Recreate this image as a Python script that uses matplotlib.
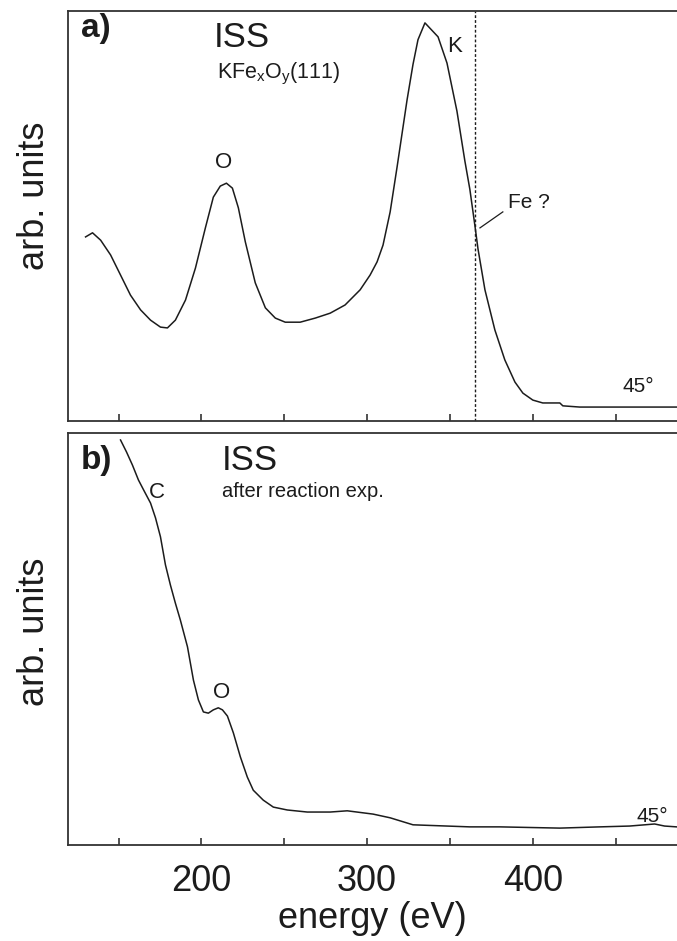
import matplotlib
matplotlib.use("Agg")
import matplotlib.pyplot as plt
from matplotlib.ticker import MultipleLocator, FuncFormatter

plt.rcParams['font.family'] = ['Liberation Sans', 'DejaVu Sans']
plt.rcParams['mathtext.fontset'] = 'custom'
plt.rcParams['mathtext.rm'] = 'Liberation Sans'
plt.rcParams['mathtext.default'] = 'regular'

INK = '#1c1c1c'

# ISS spectrum of the KFexOy(111) film (energy in eV, intensity in arb. units)
energy_a = [130.1, 134.3, 139.2, 145.2, 151.2, 157.2, 163.3, 169.3, 175.3, 179.5,
            184.3, 190.4, 196.4, 202.4, 207.2, 211.4, 215.1, 218.7, 222.3, 226.5,
            232.5, 238.6, 244.6, 250.6, 259.6, 268.7, 277.7, 286.7, 295.8, 301.8,
            306.0, 309.6, 313.9, 318.1, 324.1, 327.7, 330.7, 334.9, 342.8, 348.2,
            354.2, 359.0, 362.0, 365.1, 366.9, 371.1, 377.1, 383.1, 389.2, 394.0,
            400.0, 406.0, 416.3, 418.1, 428.3, 486.7]
intensity_a = [44.9, 45.9, 44.1, 40.5, 35.6, 30.7, 27.1, 24.6, 22.9, 22.7,
               24.6, 29.5, 37.3, 47.1, 54.6, 57.3, 58.0, 56.8, 52.0, 43.7,
               33.7, 27.6, 25.1, 24.1, 24.1, 25.1, 26.3, 28.3, 32.0, 35.6,
               38.8, 42.9, 51.0, 62.0, 78.3, 87.0, 93.0, 97.1, 93.7, 87.3,
               75.6, 63.4, 56.5, 47.5, 42.0, 32.0, 22.2, 14.9, 9.5, 6.8,
               5.1, 4.4, 4.4, 3.7, 3.4, 3.4]

# ISS spectrum after the reaction experiment
energy_b = [151.2, 154.8, 158.4, 162.0, 165.1, 169.3, 172.3, 175.3, 178.3, 181.3,
            184.3, 187.3, 191.6, 195.2, 198.2, 201.2, 204.2, 207.2, 210.2, 212.7,
            215.7, 219.3, 223.5, 227.7, 231.3, 237.3, 243.4, 251.8, 263.9, 277.7,
            288.0, 303.6, 313.9, 327.7, 348.2, 362.0, 380.1, 416.3, 440.4, 458.4,
            467.5, 473.5, 479.5, 486.7]
intensity_b = [98.3, 95.4, 92.2, 88.6, 86.2, 83.0, 79.4, 74.8, 68.0, 63.1,
               58.7, 54.6, 48.1, 40.0, 35.2, 32.3, 32.0, 32.8, 33.3, 32.8,
               31.3, 27.2, 21.4, 16.5, 13.3, 10.9, 9.2, 8.5, 8.0, 8.0,
               8.3, 7.5, 6.6, 4.9, 4.6, 4.4, 4.4, 4.1, 4.4, 4.6,
               4.9, 5.1, 4.6, 4.4]

fe_marker = 365.0          # energy of the vertical reference line (Fe?)
x_range = (119.5, 487.0)
tick_step = 50
label_step = 100

W, H = 677, 941
fig = plt.figure(figsize=(W / 100, H / 100), dpi=100)


def fpos(x, y):
    return x / W, 1 - y / H


ax1 = fig.add_axes([68 / W, 1 - 421 / H, 1 - 68 / W, (421 - 11) / H])
ax2 = fig.add_axes([68 / W, 1 - 845 / H, 1 - 68 / W, (845 - 433) / H])

for ax in (ax1, ax2):
    ax.set_xlim(*x_range)
    ax.set_ylim(0, 100)
    ax.spines['right'].set_visible(False)
    for s in ('left', 'top', 'bottom'):
        ax.spines[s].set_linewidth(1.3)
        ax.spines[s].set_color('#333333')
    ax.set_yticks([])
    ax.xaxis.set_major_locator(MultipleLocator(tick_step))
    ax.tick_params(axis='x', direction='in', length=5, width=1.2,
                   color='#333333', labelsize=26, labelcolor=INK, pad=14)

ax1.xaxis.set_major_formatter(FuncFormatter(lambda v, p: ''))
ax2.xaxis.set_major_formatter(
    FuncFormatter(lambda v, p: f'{v:.0f}' if abs(v % label_step) < 1e-6 else ''))

ax1.plot(energy_a, intensity_a, color=INK, lw=1.1)
ax2.plot(energy_b, intensity_b, color=INK, lw=1.1)
ax1.axvline(fe_marker, color=INK, lw=1.0, ls=(0, (2, 1.5)))

# panel labels and annotations
fig.text(*fpos(81, 13), 'a)', fontsize=24, fontweight='bold', color=INK, va='top')
fig.text(*fpos(81, 445), 'b)', fontsize=24, fontweight='bold', color=INK, va='top')
fig.text(*fpos(214, 21), 'ISS', fontsize=25, color=INK, va='top')
fig.text(*fpos(222, 444), 'ISS', fontsize=25, color=INK, va='top')
fig.text(*fpos(217, 61), r'KFe$_x$O$_y$(111)', fontsize=15.5, color=INK, va='top')
fig.text(*fpos(222, 482), 'after reaction exp.', fontsize=14.5, color=INK, va='top')

fig.text(*fpos(224, 163), 'O', fontsize=16, color=INK, ha='center', va='center')
fig.text(*fpos(455, 47), 'K', fontsize=16, color=INK, ha='center', va='center')
fig.text(*fpos(508, 202), 'Fe ?', fontsize=15, color=INK, ha='left', va='center')
ax1.plot([368.1, 381.9], [47.1, 51.0], color=INK, lw=0.9)
fig.text(*fpos(157, 492), 'C', fontsize=16, color=INK, ha='center', va='center')
fig.text(*fpos(222, 692), 'O', fontsize=16, color=INK, ha='center', va='center')
fig.text(*fpos(638, 387), '45°', fontsize=15, color=INK, ha='center', va='center')
fig.text(*fpos(652, 817), '45°', fontsize=15, color=INK, ha='center', va='center')

fig.text(*fpos(35, 196), 'arb. units', fontsize=26, color=INK, rotation=90,
         ha='center', va='center')
fig.text(*fpos(35, 632), 'arb. units', fontsize=26, color=INK, rotation=90,
         ha='center', va='center')
fig.text(*fpos(372, 918), 'energy (eV)', fontsize=26, color=INK,
         ha='center', va='center')

fig.savefig('out.png', dpi=100)
